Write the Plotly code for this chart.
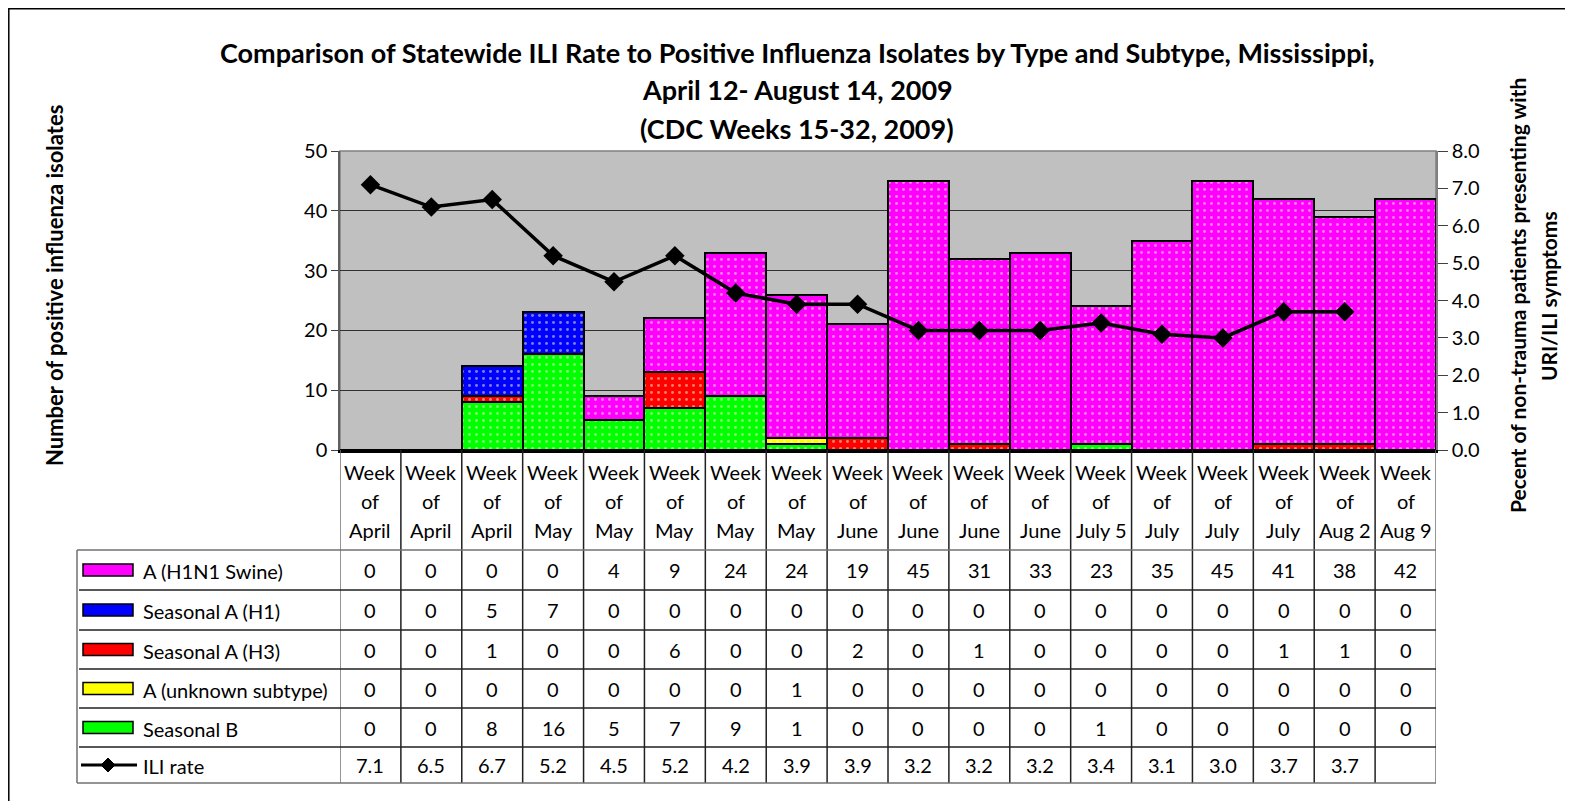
import plotly.graph_objects as go

# ---------------- data ----------------
months = ["April", "April", "April", "May", "May", "May", "May", "May",
          "June", "June", "June", "June", "July 5", "July", "July", "July",
          "Aug 2", "Aug 9"]
h1n1 = [0, 0, 0, 0, 4, 9, 24, 24, 19, 45, 31, 33, 23, 35, 45, 41, 38, 42]
seasonal_h1 = [0, 0, 5, 7, 0, 0, 0, 0, 0, 0, 0, 0, 0, 0, 0, 0, 0, 0]
seasonal_h3 = [0, 0, 1, 0, 0, 6, 0, 0, 2, 0, 1, 0, 0, 0, 0, 1, 1, 0]
a_unknown = [0, 0, 0, 0, 0, 0, 0, 1, 0, 0, 0, 0, 0, 0, 0, 0, 0, 0]
seasonal_b = [0, 0, 8, 16, 5, 7, 9, 1, 0, 0, 0, 0, 1, 0, 0, 0, 0, 0]
ili_rate = [7.1, 6.5, 6.7, 5.2, 4.5, 5.2, 4.2, 3.9, 3.9, 3.2, 3.2, 3.2,
            3.4, 3.1, 3.0, 3.7, 3.7, None]

series_names = ["A (H1N1 Swine)", "Seasonal A (H1)", "Seasonal A (H3)",
                "A (unknown subtype)", "Seasonal B"]
series_values = [h1n1, seasonal_h1, seasonal_h3, a_unknown, seasonal_b]
series_colors = ["#FF00FF", "#0000FF", "#FF0000", "#FFFF00", "#00FF00"]
ili_name = "ILI rate"

FONT = "Lato"
x_idx = list(range(len(months)))

# ---------------- layout helpers (reference pixel -> paper) ----------------
OFF = 8                     # page body margin
W, H = 1573, 801
PL, PR, PT, PB = 340, 1436, 151, 450


def px(x):
    return (x - PL) / (PR - PL)


def py(y):
    return (PB - y) / (PB - PT)


fig = go.Figure()

# stacked bars: bottom -> top
for k in [4, 3, 2, 1, 0]:
    fig.add_trace(go.Bar(
        x=x_idx, y=series_values[k], name=series_names[k],
        marker=dict(color=series_colors[k],
                    line=dict(color="black", width=2),
                    pattern=dict(shape=".", fgcolor="#FFFFD0",
                                 bgcolor=series_colors[k],
                                 size=7, solidity=0.14)),
        showlegend=False, hoverinfo="skip"))

fig.add_trace(go.Scatter(
    x=x_idx, y=ili_rate, name=ili_name, yaxis="y2", mode="lines+markers",
    line=dict(color="black", width=3.5),
    marker=dict(symbol="diamond", size=15, color="black"),
    showlegend=False, hoverinfo="skip"))

shapes = []
annotations = []

# outer border
shapes.append(dict(type="rect", xref="paper", yref="paper",
                   x0=px(8.8), x1=px(1610), y0=py(8.8), y1=py(830),
                   line=dict(color="black", width=1.5)))
# plot area border (gray)
shapes.append(dict(type="rect", xref="paper", yref="paper",
                   x0=0, x1=1, y0=0, y1=1,
                   line=dict(color="#808080", width=1.5), layer="below"))

# title
for txt, yy in [("Comparison of Statewide ILI Rate to Positive Influenza Isolates by Type and Subtype, Mississippi,", 52),
                ("April 12- August 14, 2009", 90),
                ("(CDC Weeks 15-32, 2009)", 128)]:
    annotations.append(dict(text="<b>%s</b>" % txt, xref="paper", yref="paper",
                            x=px(797), y=py(yy), showarrow=False,
                            xanchor="center", yanchor="middle",
                            font=dict(family=FONT, size=27, color="black")))

# axis titles
annotations.append(dict(text="<b>Number of positive influenza isolates</b>",
                        xref="paper", yref="paper", x=px(54), y=py(286),
                        textangle=-90, showarrow=False,
                        xanchor="center", yanchor="middle",
                        font=dict(family=FONT, size=22, color="black")))
annotations.append(dict(text="<b>Pecent of non-trauma patients presenting with</b>",
                        xref="paper", yref="paper", x=px(1517), y=py(296),
                        textangle=-90, showarrow=False,
                        xanchor="center", yanchor="middle",
                        font=dict(family=FONT, size=21, color="black")))
annotations.append(dict(text="<b>URI/ILI symptoms</b>",
                        xref="paper", yref="paper", x=px(1548), y=py(296),
                        textangle=-90, showarrow=False,
                        xanchor="center", yanchor="middle",
                        font=dict(family=FONT, size=21, color="black")))

# ---------------- data table ----------------
TF = dict(family=FONT, size=20, color="black")
hdr_y = [472, 501, 530]
row_lines = [550, 590, 630, 669, 708, 747, 783]
row_centers = [(row_lines[i] + row_lines[i + 1]) / 2 for i in range(6)]

for i, m in enumerate(months):
    for txt, yy in zip(["Week", "of", m], hdr_y):
        annotations.append(dict(text=txt, xref="x", yref="paper", x=i, y=py(yy),
                                showarrow=False, xanchor="center", yanchor="middle",
                                font=TF))
    for r in range(5):
        annotations.append(dict(text=str(series_values[r][i]), xref="x", yref="paper",
                                x=i, y=py(row_centers[r]), showarrow=False,
                                xanchor="center", yanchor="middle", font=TF))
    v = ili_rate[i]
    annotations.append(dict(text="" if v is None else "%.1f" % v, xref="x", yref="paper",
                            x=i, y=py(row_centers[5]), showarrow=False,
                            xanchor="center", yanchor="middle", font=TF))

GRAY = "#707070"
DARK = "#202020"
n = len(months)
for i in range(n + 1):
    xb = i - 0.5
    shapes.append(dict(type="line", xref="x", yref="paper", x0=xb, x1=xb,
                       y0=py(PB), y1=py(row_lines[-1]),
                       line=dict(color=GRAY if i in (0, n) else DARK, width=1.5)))
shapes.append(dict(type="line", xref="paper", yref="paper", x0=px(77), x1=px(77),
                   y0=py(row_lines[0]), y1=py(row_lines[-1]),
                   line=dict(color=GRAY, width=1.5)))
for j, yy in enumerate(row_lines):
    edge = j in (0, len(row_lines) - 1)
    shapes.append(dict(type="line", xref="paper", yref="paper",
                       x0=px(77) if edge else px(79), x1=1,
                       y0=py(yy), y1=py(yy),
                       line=dict(color=GRAY if edge else DARK, width=1.5)))

# legend keys inside the table
for r in range(5):
    yc = row_centers[r]
    shapes.append(dict(type="rect", xref="paper", yref="paper",
                       x0=px(83), x1=px(133), y0=py(yc - 6), y1=py(yc + 6),
                       fillcolor=series_colors[r], line=dict(color="black", width=1.5)))
    annotations.append(dict(text=series_names[r], xref="paper", yref="paper",
                            x=px(141), y=py(yc + 1), showarrow=False,
                            xanchor="left", yanchor="middle", font=TF))
yc = row_centers[5]
shapes.append(dict(type="line", xref="paper", yref="paper", x0=px(81), x1=px(137),
                   y0=py(yc), y1=py(yc), line=dict(color="black", width=3)))
d = 7
shapes.append(dict(type="path", xref="paper", yref="paper",
                   path="M %f %f L %f %f L %f %f L %f %f Z" % (
                       px(108 - d), py(yc), px(108), py(yc - d),
                       px(108 + d), py(yc), px(108), py(yc + d)),
                   fillcolor="black", line=dict(color="black", width=1)))
annotations.append(dict(text=ili_name, xref="paper", yref="paper",
                        x=px(141), y=py(yc + 1), showarrow=False,
                        xanchor="left", yanchor="middle", font=TF))

fig.update_layout(
    width=W - OFF, height=H - OFF, autosize=False,
    margin=dict(l=PL - OFF, r=W - PR, t=PT - OFF, b=H - PB, pad=0),
    paper_bgcolor="white", plot_bgcolor="#C0C0C0",
    barmode="stack", bargap=0,
    font=dict(family=FONT, color="black"),
    xaxis=dict(range=[-0.5, n - 0.5], showticklabels=False, ticks="",
               showgrid=False, zeroline=False, showline=True,
               linecolor="black", linewidth=2.5, fixedrange=True),
    yaxis=dict(range=[0, 50], dtick=10, tick0=0, showgrid=True,
               gridcolor="#303030", gridwidth=1, zeroline=False,
               ticks="outside", ticklen=7, tickcolor="#404040",
               showline=True, linecolor="#606060", linewidth=1.5,
               tickfont=dict(family=FONT, size=20, color="black"),
               fixedrange=True),
    yaxis2=dict(range=[0, 8], dtick=1, tick0=0, tickformat=".1f",
                overlaying="y", side="right", showgrid=False, zeroline=False,
                ticks="outside", ticklen=10, tickcolor="#404040",
                showline=True, linecolor="#808080", linewidth=1.5,
                tickfont=dict(family=FONT, size=20, color="black"),
                fixedrange=True),
    shapes=shapes, annotations=annotations,
)

fig.write_html("out.html")
